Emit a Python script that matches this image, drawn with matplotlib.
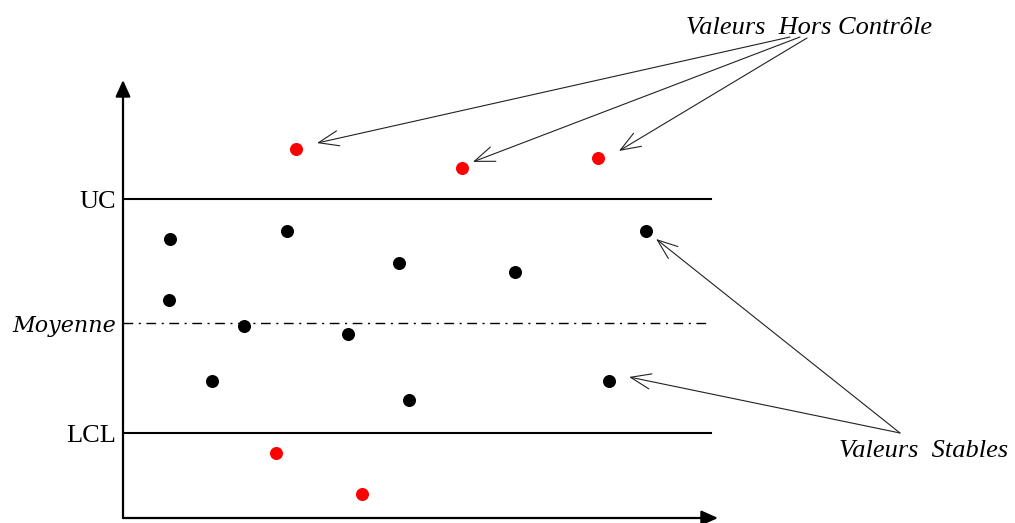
"""
Carte de contrôle : valeurs stables et valeurs hors contrôle.
"""

import matplotlib
matplotlib.use('Agg')
import matplotlib.pyplot as plt

# Limites de contrôle (unités arbitraires, axe y de 0 à 100)
UC = 72.8
MOYENNE = 44.5
LCL = 19.4
LIMIT_LABELS = ['UC', 'Moyenne', 'LCL']

# Points stables (entre les limites)
stable_x = [1.58, 1.55, 4.07, 2.99, 5.51, 7.56, 9.28, 9.61, 13.18, 16.34, 17.58]
stable_y = [63.7, 49.8, 43.8, 31.3, 65.5, 42.0, 58.2, 26.9, 56.2, 31.3, 65.5]

# Points hors contrôle
out_x = [5.82, 11.39, 15.97, 5.14, 8.03]
out_y = [84.2, 79.9, 82.2, 14.8, 5.5]

# Pointes des flèches d'annotation
hors_tips = [(6.52, 85.6), (11.76, 81.3), (16.67, 83.8)]
hors_sources = [(790, 486), (800, 486), (807, 485)]   # pixels figure
stable_tips = [(17.92, 63.7), (17.01, 32.2)]
stable_source = (900, 90)

SERIF = ['Liberation Serif', 'DejaVu Serif']

fig = plt.figure(figsize=(10.15, 5.23), dpi=100)
W, H = 1015, 523
# axes placé sur le cadre des flèches (x: 123 -> 718 px, y: 518 -> 80 px)
ax = fig.add_axes([123 / W, (H - 518) / H, (718 - 123) / W, (518 - 80) / H])
ax.set_xlim(0, 20)
ax.set_ylim(0, 100)
for s in ax.spines.values():
    s.set_visible(False)
ax.set_xticks([])

# axes avec flèches pleines
ax.annotate('', xy=(20, 0), xytext=(0, 0),
            arrowprops=dict(arrowstyle='-|>,head_length=1.0,head_width=0.45',
                            color='black', lw=1.6, shrinkA=0, shrinkB=0),
            annotation_clip=False)
ax.annotate('', xy=(0, 100), xytext=(0, 0),
            arrowprops=dict(arrowstyle='-|>,head_length=1.0,head_width=0.45',
                            color='black', lw=1.6, shrinkA=0, shrinkB=0),
            annotation_clip=False)

# limites
ax.plot([0, 19.76], [UC, UC], color='black', lw=1.5)
ax.plot([0, 19.76], [LCL, LCL], color='black', lw=1.5)
ax.plot([0, 19.6], [MOYENNE, MOYENNE], color='black', lw=1.0,
        linestyle=(0, (7, 4, 1.5, 4)))

ax.set_yticks([UC, MOYENNE, LCL])
ax.set_yticklabels(LIMIT_LABELS)
ax.tick_params(axis='y', length=0, pad=5)
for lab in ax.get_yticklabels():
    lab.set_fontfamily(SERIF)
    lab.set_fontsize(19)
moy = ax.get_yticklabels()[1]
moy.set_fontfamily(['DejaVu Serif'])
moy.set_fontstyle('italic')
moy.set_fontsize(16)

# points
ax.scatter(stable_x, stable_y, s=70, color='black', zorder=3, clip_on=False)
ax.scatter(out_x, out_y, s=70, color='red', zorder=3, clip_on=False)

# annotations
arrow = dict(arrowstyle='->,head_length=1.45,head_width=0.55', color='#222222',
             lw=0.8, shrinkA=0, shrinkB=0)
for tip, src in zip(hors_tips, hors_sources):
    ax.annotate('', xy=tip, xycoords='data', xytext=src,
                textcoords='figure pixels', arrowprops=arrow,
                annotation_clip=False)
for tip in stable_tips:
    ax.annotate('', xy=tip, xycoords='data', xytext=stable_source,
                textcoords='figure pixels', arrowprops=arrow,
                annotation_clip=False)

fig.text(809 / W, 1 - 28 / H, 'Valeurs  Hors Contrôle', family=SERIF,
         style='italic', fontsize=19, ha='center', va='center')
fig.text(924 / W, 1 - 451 / H, 'Valeurs  Stables', family=SERIF,
         style='italic', fontsize=19, ha='center', va='center')

plt.savefig('out.png', dpi=100)
